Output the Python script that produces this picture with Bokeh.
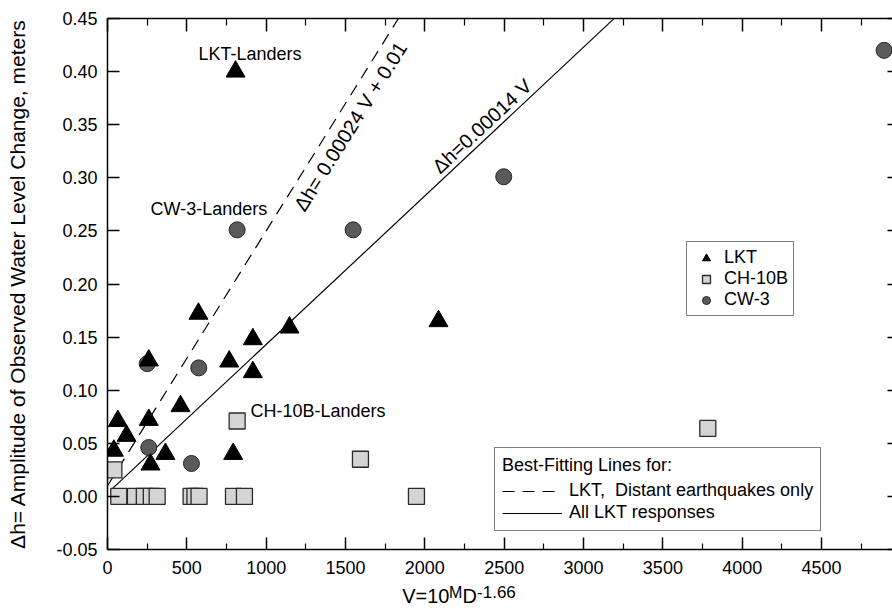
from bokeh.plotting import figure
from bokeh.layouts import column
from bokeh.models import (LinearAxis, FixedTicker, NumeralTickFormatter, Range1d,
                          Label, Legend, LegendItem, CustomJSTickFormatter)
from bokeh.embed import file_html
from bokeh.resources import INLINE

# ---------------- data ----------------
lkt_v = [807, 573, 260, 767, 916, 916, 1147, 460, 65, 120, 40, 260, 365, 271, 792, 2086]
lkt_dh = [0.400, 0.172, 0.128, 0.127, 0.148, 0.117, 0.159, 0.085, 0.071, 0.057,
          0.043, 0.072, 0.040, 0.030, 0.040, 0.165]

ch10b_v = [817, 40, 1594, 1947, 3783, 71, 176, 232, 276, 313, 527, 551, 577, 794, 863]
ch10b_dh = [0.071, 0.025, 0.035, 0.0, 0.064, 0.0, 0.0, 0.0, 0.0, 0.0,
            0.0, 0.0, 0.0, 0.0, 0.0]

cw3_v = [817, 2497, 1548, 4894, 575, 250, 260, 529]
cw3_dh = [0.251, 0.301, 0.251, 0.420, 0.121, 0.125, 0.046, 0.031]

fit_far_v = [0, 1833]          # dh = 0.00024 V + 0.01 (distant earthquakes only)
fit_far_dh = [0.010, 0.450]
fit_all_v = [19, 3190]         # dh = 0.00014 V (all LKT responses)
fit_all_dh = [0.0057, 0.4496]

x_ticks = [0, 500, 1000, 1500, 2000, 2500, 3000, 3500, 4000, 4500]
x_minor = [250, 750, 1250, 1750, 2250, 2750, 3250, 3750, 4250, 4750]
y_ticks = [-0.05, 0.00, 0.05, 0.10, 0.15, 0.20, 0.25, 0.30, 0.35, 0.40, 0.45]

# annotation texts with the point of the chart they sit at (middle of the capitals)
annotations = [("LKT-Landers", 573, 0.417), ("CW-3-Landers", 271, 0.2705),
               ("CH-10B-Landers", 901, 0.0807)]

FONT = "Liberation Sans"

x_range = Range1d(0, 4947)
p = figure(width=892, height=581, x_range=x_range, y_range=Range1d(-0.05, 0.45),
           x_axis_type=None, y_axis_type=None, toolbar_location=None,
           output_backend="svg", min_border_left=107, min_border_right=0,
           min_border_top=18, min_border_bottom=32)
p.outline_line_color = None
p.background_fill_color = "white"
p.border_fill_color = "white"

xt = FixedTicker(ticks=x_ticks, minor_ticks=x_minor)
yt = FixedTicker(ticks=y_ticks)

bottom = LinearAxis(ticker=xt, major_tick_in=12, major_tick_out=0, minor_tick_in=6,
                    minor_tick_out=0, major_label_standoff=11,
                    major_label_text_font=FONT, major_label_text_font_size="18px",
                    major_label_text_color="black", axis_line_width=1.5,
                    major_tick_line_width=1.5, minor_tick_line_width=1.2)
p.add_layout(bottom, "below")

top = LinearAxis(ticker=xt, formatter=CustomJSTickFormatter(code="return ''"),
                 major_tick_in=13, major_tick_out=0,
                 minor_tick_in=7, minor_tick_out=0, major_label_standoff=0,
                 major_label_text_font_size="10px", axis_line_width=1.5,
                 major_tick_line_width=1.5, minor_tick_line_width=1.2)
p.add_layout(top, "above")

left = LinearAxis(ticker=yt, formatter=NumeralTickFormatter(format="0.00"),
                  major_tick_in=12, major_tick_out=0, minor_tick_in=0, minor_tick_out=0,
                  major_label_standoff=10, major_label_text_font=FONT,
                  major_label_text_font_size="18px", major_label_text_color="black",
                  axis_line_width=1.5, major_tick_line_width=1.5,
                  axis_label="\u0394h= Amplitude of Observed Water Level Change, meters",
                  axis_label_text_font=FONT, axis_label_text_font_size="21px",
                  axis_label_text_font_style="normal", axis_label_text_color="black",
                  axis_label_standoff=24)
p.add_layout(left, "left")

right = LinearAxis(ticker=yt, formatter=CustomJSTickFormatter(code="return ''"),
                   major_tick_in=5, major_tick_out=0, minor_tick_in=0,
                   minor_tick_out=0, major_label_standoff=0,
                   major_label_text_font_size="10px",
                   axis_line_alpha=0, major_tick_line_width=1.5)
p.add_layout(right, "right")

# fit lines
r_far = p.line(fit_far_v, fit_far_dh, line_color="black", line_width=1.2, line_dash="12 8")
r_all = p.line(fit_all_v, fit_all_dh, line_color="black", line_width=1.2)

# data points
r_cw3 = p.scatter(cw3_v, cw3_dh, marker="circle", size=16, fill_color="#5a5a5a",
                  line_color="#262626", line_width=1)
r_ch = p.scatter(ch10b_v, ch10b_dh, marker="square", size=16, fill_color="#d4d4d4",
                 line_color="#2a2a2a", line_width=1.3)
r_lkt = p.scatter(lkt_v, lkt_dh, marker="triangle", size=19, fill_color="black",
                  line_color="black", line_width=1)

# annotations
for txt, x, y in annotations:
    p.add_layout(Label(x=x, y=y, text=txt, text_font=FONT, text_font_size="18px",
                       text_color="black", text_baseline="middle", text_align="left"))

p.add_layout(Label(x=1531, y=0.3483, text="\u0394h= 0.00024 V + 0.01", angle=58,
                   angle_units="deg", text_align="center", text_baseline="middle",
                   text_font=FONT, text_font_size="20px", text_color="black"))
p.add_layout(Label(x=2360, y=0.3487, text="\u0394h=0.00014 V", angle=43.1,
                   angle_units="deg", text_align="center", text_baseline="middle",
                   text_font=FONT, text_font_size="20px", text_color="black"))

# legends
leg1 = Legend(items=[LegendItem(label="LKT", renderers=[r_lkt]),
                     LegendItem(label="CH-10B", renderers=[r_ch]),
                     LegendItem(label="CW-3", renderers=[r_cw3])],
              location=(579, 233), padding=5, spacing=0, margin=0,
              label_height=20, glyph_height=20, glyph_width=28, label_standoff=4,
              label_text_font=FONT, label_text_font_size="18px", label_text_color="black",
              border_line_color="black", border_line_width=1.2,
              background_fill_color="white", background_fill_alpha=1)
p.add_layout(leg1)

leg2 = Legend(items=[LegendItem(label="LKT,  Distant earthquakes only", renderers=[r_far]),
                     LegendItem(label="All LKT responses", renderers=[r_all])],
              location=(387, 18), padding=7, spacing=1, margin=0,
              label_height=20, glyph_height=20, glyph_width=60, label_standoff=7,
              label_text_font=FONT, label_text_font_size="18px", label_text_color="black",
              title="Best-Fitting Lines for:", title_text_font=FONT,
              title_text_font_size="18px", title_text_font_style="normal",
              title_text_color="black", title_standoff=4,
              border_line_color="black", border_line_width=1.2,
              background_fill_color="white", background_fill_alpha=1)
p.add_layout(leg2)

# x axis title strip: V=10^M D^-1.66 (superscripts as separate text pieces)
q = figure(width=892, height=28, x_range=x_range, y_range=Range1d(0, 28),
           x_axis_type=None, y_axis_type=None, toolbar_location=None,
           output_backend="svg", min_border=0)
q.outline_line_color = None
q.background_fill_color = "white"
q.border_fill_color = "white"
q.grid.visible = False
# (text, position along the V axis, height above strip bottom in px, size)
xl_parts = [("V=10", 1857, 13.5, "20px"), ("M", 2152, 17.2, "16px"),
            ("D", 2237, 13.5, "20px"), ("-1.66", 2329, 17.6, "17px")]
for txt, vx, sy, fs in xl_parts:
    q.add_layout(Label(x=vx, y=sy, x_units="data", y_units="screen", text=txt,
                       text_font=FONT, text_font_size=fs, text_color="black",
                       text_baseline="middle", text_align="left"))

layout = column(p, q, spacing=0)
open("out.html", "w").write(file_html(layout, INLINE))
